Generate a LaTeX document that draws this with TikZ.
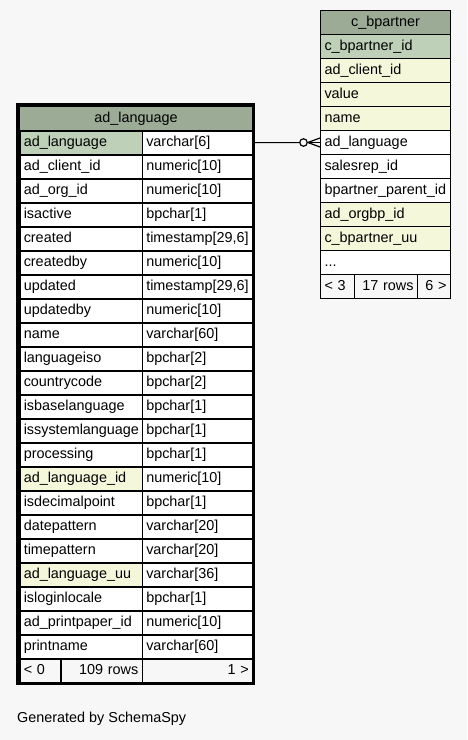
\documentclass[tikz,border=0pt]{standalone}
\usepackage{fontspec}
\setmainfont{Liberation Sans}
\usetikzlibrary{calc}
\definecolor{hdgreen}{HTML}{9BAB96}
\definecolor{pkgreen}{HTML}{BED1B8}
\definecolor{ixyellow}{HTML}{F4F7DA}
\definecolor{pagebg}{HTML}{F7F7F7}

\begin{document}
\begin{tikzpicture}[x=1pt, y=-1pt, every node/.style={font=\fontsize{14.4}{16}\selectfont},
    cell/.style={draw, line width=1pt, fill=white, anchor=north west, minimum height=24pt,
        inner xsep=4pt, inner ysep=0pt, text height=10.5pt, text depth=3pt, align=left},
    headcell/.style={cell, fill=hdgreen, align=center},
    footcell/.style={cell, fill=pagebg}]
    \fill[pagebg] (0,0) rectangle (467,740);
    \useasboundingbox (0,0) rectangle (467,740);
    % ad_language table
    \begin{scope}[every node/.append style={line width=1.5pt}]
    \node[headcell, text width=225pt] (lang-head) at (19,106) {ad\_language};
    \foreach \col/\typ/\tint [count=\i from 0] in {
            ad\_language/varchar[6]/pkgreen,
            ad\_client\_id/numeric[10]/white,
            ad\_org\_id/numeric[10]/white,
            isactive/bpchar[1]/white,
            created/{timestamp[29,6]}/white,
            createdby/numeric[10]/white,
            updated/{timestamp[29,6]}/white,
            updatedby/numeric[10]/white,
            name/varchar[60]/white,
            languageiso/bpchar[2]/white,
            countrycode/bpchar[2]/white,
            isbaselanguage/bpchar[1]/white,
            issystemlanguage/bpchar[1]/white,
            processing/bpchar[1]/white,
            ad\_language\_id/numeric[10]/ixyellow,
            isdecimalpoint/bpchar[1]/white,
            datepattern/varchar[20]/white,
            timepattern/varchar[20]/white,
            ad\_language\_uu/varchar[36]/ixyellow,
            isloginlocale/bpchar[1]/white,
            ad\_printpaper\_id/numeric[10]/white,
            printname/varchar[60]/white}{
        \node[cell, line width=1.5pt, fill=\tint, text width=114.5pt] (lang-\i-a) at (19,{130+24*\i}) {\col};
        \node[cell, line width=1.5pt, text width=102.5pt] (lang-\i-b) at (141.5,{130+24*\i}) {\typ};
    }
    \node[footcell, line width=1.5pt, text width=33pt] (lang-prev) at (19,658) {< 0};
    \node[footcell, line width=1.5pt, text width=73.5pt, align=right] (lang-rows) at (60,658) {109 rows};
    \node[footcell, line width=1.5pt, text width=102.5pt, align=right] (lang-next) at (141.5,658) {1 >};
    \end{scope}
    \draw[line width=3pt] (17.5,104.5) rectangle (253,683.5);
    % c_bpartner table
    \node[headcell, text width=122pt] (bp-head) at (320,10) {c\_bpartner};
    \foreach \col/\tint [count=\i from 0] in {
            c\_bpartner\_id/pkgreen,
            ad\_client\_id/ixyellow,
            value/ixyellow,
            name/ixyellow,
            ad\_language/white,
            salesrep\_id/white,
            bpartner\_parent\_id/white,
            ad\_orgbp\_id/ixyellow,
            c\_bpartner\_uu/ixyellow,
            {.{}.{}.}/white}{
        \node[cell, fill=\tint, text width=122pt] (bp-\i) at (320,{34+24*\i}) {\col};
    }
    \node[footcell, text width=26pt] (bp-prev) at (320,274) {< 3};
    \node[footcell, text width=55pt, align=right] (bp-rows) at (354,274) {17 rows};
    \node[footcell, text width=25pt, align=right] (bp-next) at (417,274) {6 >};
    % relation
    \node[circle, draw, line width=1.2pt, minimum size=7.5pt, inner sep=0pt] (ring) at ($(bp-4.west)+(-16.5,0)$) {};
    \draw[line width=1pt] (lang-0-b.east) -- (ring.west);
    \draw[line width=1.2pt] (ring.east) -- (bp-4.west);
    \draw[line width=1.2pt] (ring.east) -- ($(bp-4.west)+(0,-4.5)$);
    \draw[line width=1.2pt] (ring.east) -- ($(bp-4.west)+(0,4.5)$);
    \node[anchor=west, inner sep=0pt] (credit) at (17,719) {Generated by SchemaSpy};
\end{tikzpicture}
\end{document}
